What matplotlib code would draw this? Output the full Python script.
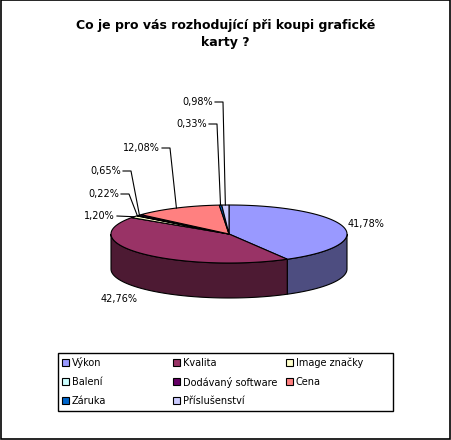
import numpy as np
import matplotlib
matplotlib.use('Agg')
import matplotlib.pyplot as plt
from matplotlib.patches import Polygon, Rectangle

plt.rcParams['font.family'] = ['DejaVu Sans']

# ---- data ----
categories = ['Výkon', 'Kvalita', 'Image značky', 'Balení',
              'Dodávaný software', 'Cena', 'Záruka', 'Příslušenství']
values = [41.78, 42.76, 1.20, 0.22, 0.65, 12.08, 0.33, 0.98]
value_labels = ['41,78%', '42,76%', '1,20%', '0,22%', '0,65%', '12,08%', '0,33%', '0,98%']
title = 'Co je pro vás rozhodující při koupi grafické\nkarty ?'

# ---- styles ----
top_colors = ['#9999FF', '#993366', '#FFFFCC', '#CCFFFF',
              '#660066', '#FF8080', '#0066CC', '#CCCCFF']
side_colors = ['#4D4D80', '#4D1A33', '#80805F', '#668080',
               '#330033', '#804040', '#003366', '#666680']

# label layout: (x, y, ha, use_leader)
label_layout = [
    (348, 224, 'left', False),
    (101, 299, 'left', False),
    (115, 216, 'right', True),
    (119, 194, 'right', True),
    (121, 171, 'right', True),
    (160, 148, 'right', True),
    (207, 124, 'right', True),
    (213, 102, 'right', True),
]

fig = plt.figure(figsize=(4.51, 4.40), dpi=100)
ax = fig.add_axes([0, 0, 1, 1])
ax.set_xlim(0, 451)
ax.set_ylim(440, 0)
ax.axis('off')

ax.add_patch(Rectangle((0.5, 0.5), 449.5, 438.5, fill=False, ec='black', lw=1.2))

ax.text(225.5, 34, title, ha='center', va='center', fontsize=9, fontweight='bold',
        linespacing=1.35)

cx, cy, rx, ry, depth = 229, 234, 118, 29, 35
total = sum(values)
cum = np.concatenate([[0], np.cumsum(values)])
theta = -90 + 360 * cum / total


def ell(t, dy=0):
    r = np.radians(t)
    return cx + rx * np.cos(r), cy + ry * np.sin(r) + dy


# side walls (front half only: 0..180 deg, y down)
for i in range(len(values)):
    a, b = max(theta[i], 0), min(theta[i + 1], 180)
    if b > a:
        ts = np.linspace(a, b, 120)
        xt, yt = ell(ts)
        xb, yb = ell(ts[::-1], depth)
        pts = np.column_stack([np.concatenate([xt, xb]), np.concatenate([yt, yb])])
        ax.add_patch(Polygon(pts, closed=True, fc=side_colors[i], ec='black', lw=0.8))

# top faces
for i in range(len(values)):
    ts = np.linspace(theta[i], theta[i + 1], max(3, int(abs(theta[i + 1] - theta[i]) * 2)))
    xt, yt = ell(ts)
    pts = np.column_stack([np.concatenate([[cx], xt]), np.concatenate([[cy], yt])])
    ax.add_patch(Polygon(pts, closed=True, fc=top_colors[i], ec='black', lw=0.8,
                         joinstyle='miter'))

# data labels with leaders
for i in range(len(values)):
    x, y, ha, lead = label_layout[i]
    ax.text(x, y, value_labels[i], ha=ha, va='center', fontsize=7)
    if lead:
        mid = (theta[i] + theta[i + 1]) / 2
        axp, ayp = ell(mid)
        ex = x + 10
        if abs(ayp - y) < 3:
            ax.plot([x + 2, axp], [y, ayp], color='black', lw=0.8)
        else:
            ax.plot([x + 2, ex, axp], [y, y, ayp], color='black', lw=0.8)

# legend
lx0, ly0, lx1, ly1 = 58, 353, 393, 411
ax.add_patch(Rectangle((lx0, ly0), lx1 - lx0, ly1 - ly0, fill=False, ec='black', lw=1))
col_x = [62, 173, 286]
row_y = [363, 382, 401]
for i, cat in enumerate(categories):
    r, c = divmod(i, 3)
    x, y = col_x[c], row_y[r]
    ax.add_patch(Rectangle((x, y - 3.5), 7, 7, fc=top_colors[i], ec='black', lw=0.8))
    ax.text(x + 10, y, cat, ha='left', va='center', fontsize=7)

fig.savefig('out.png', dpi=100)
